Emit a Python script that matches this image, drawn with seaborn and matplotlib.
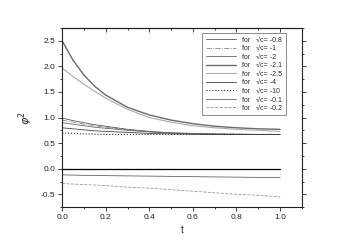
import matplotlib
matplotlib.use('Agg')
import matplotlib.pyplot as plt
import numpy as np
import pandas as pd
import seaborn as sns
from matplotlib.ticker import MultipleLocator

t = [0.0, 0.05, 0.1, 0.15, 0.2, 0.3, 0.4, 0.5, 0.6, 0.7, 0.8, 0.9, 1.0]

phi_m08 = [0.99, 0.94, 0.90, 0.86, 0.83, 0.77, 0.73, 0.70, 0.69, 0.68, 0.675, 0.67, 0.67]
phi_m1 = [0.95, 0.91, 0.87, 0.84, 0.81, 0.76, 0.72, 0.70, 0.69, 0.68, 0.675, 0.67, 0.67]
phi_m2 = [0.90, 0.87, 0.84, 0.81, 0.79, 0.75, 0.72, 0.70, 0.68, 0.675, 0.67, 0.67, 0.67]
phi_m21 = [2.50, 2.12, 1.83, 1.61, 1.44, 1.20, 1.05, 0.95, 0.88, 0.83, 0.80, 0.78, 0.77]
phi_m25 = [1.97, 1.80, 1.65, 1.51, 1.38, 1.16, 1.00, 0.91, 0.84, 0.80, 0.77, 0.75, 0.73]
phi_m4 = [0.80, 0.78, 0.76, 0.74, 0.73, 0.71, 0.69, 0.68, 0.675, 0.67, 0.67, 0.67, 0.67]
phi_m10 = [0.70, 0.69, 0.68, 0.675, 0.67, 0.67, 0.67, 0.67, 0.67, 0.67, 0.67, 0.67, 0.67]
phi_m01 = [-0.12, -0.125, -0.13, -0.13, -0.135, -0.14, -0.145, -0.15, -0.155, -0.16, -0.165, -0.17, -0.17]
phi_m02 = [-0.29, -0.30, -0.31, -0.32, -0.33, -0.36, -0.38, -0.41, -0.44, -0.47, -0.50, -0.52, -0.55]
phi_zero = [0.0] * len(t)

labels = ['-0.8', '-1', '-2', '-2.1', '-2.5', '-4', '-10', '-0.1', '-0.2']
series = [phi_m08, phi_m1, phi_m2, phi_m21, phi_m25, phi_m4, phi_m10, phi_m01, phi_m02]
styles = [
    dict(color='#555555', lw=0.6, ls='-'),
    dict(color='#888888', lw=0.6, ls='-.'),
    dict(color='#666666', lw=0.6, ls='-'),
    dict(color='#6a6a6a', lw=1.0, ls='-'),
    dict(color='#aaaaaa', lw=0.8, ls='-'),
    dict(color='#444444', lw=0.6, ls='-'),
    dict(color='#333333', lw=0.8, ls=':'),
    dict(color='#666666', lw=0.6, ls='-'),
    dict(color='#999999', lw=0.6, ls='--'),
]

sns.set_style('white')
plt.rcParams['font.family'] = ['Liberation Sans', 'DejaVu Sans']

fig = plt.figure(figsize=(3.51, 2.48), dpi=100)
ax = fig.add_axes([0.177, 0.165, 0.683, 0.722])

for lab, vals, st in zip(labels, series, styles):
    df = pd.DataFrame({'t': t, 'phi': vals})
    sns.lineplot(data=df, x='t', y='phi', ax=ax, label=f'for   \u221ac= {lab}', **st)
sns.lineplot(x=t, y=phi_zero, ax=ax, color='black', lw=0.9, legend=False)

ax.set_xlim(0, 1.1)
ax.set_ylim(-0.75, 2.75)
ax.xaxis.set_minor_locator(MultipleLocator(0.1))
ax.yaxis.set_minor_locator(MultipleLocator(0.25))
ax.set_xticks([0, 0.2, 0.4, 0.6, 0.8, 1.0])
ax.set_xticklabels(['0.0', '0.2', '0.4', '0.6', '0.8', '1.0'])
ax.set_yticks([-0.5, 0.0, 0.5, 1.0, 1.5, 2.0, 2.5])
ax.set_yticklabels(['-0.5', '0.0', '0.5', '1.0', '1.5', '2.0', '2.5'])
ax.tick_params(which='both', direction='out', labelsize=6, width=0.6, colors='#222222',
               bottom=True, left=True, right=True, top=False, pad=2)
ax.tick_params(which='major', length=3)
ax.tick_params(which='minor', length=1.5)
for s in ax.spines.values():
    s.set_linewidth(0.8)
    s.set_color('#222222')

top = ax.secondary_xaxis('top')
top.set_xticks([0, 0.2, 0.4, 0.6, 0.8, 1.0])
top.xaxis.set_minor_locator(MultipleLocator(0.1))
top.tick_params(which='both', direction='in', labeltop=False, width=0.6, colors='#222222')
top.tick_params(which='major', length=3)
top.tick_params(which='minor', length=1.5)
top.spines['top'].set_linewidth(0.8)

ax.set_xlabel('t', fontsize=7, labelpad=3)
ax.set_ylabel(r'$\varphi^2$', fontsize=8, labelpad=4)

leg = ax.legend(loc='upper right', bbox_to_anchor=(0.933, 0.972), fontsize=5,
                frameon=True, fancybox=False, edgecolor='#777777', framealpha=1,
                handlelength=4.4, labelspacing=0.22, borderpad=0.5, handletextpad=0.9,
                borderaxespad=0.0)
leg.get_frame().set_linewidth(0.6)

fig.savefig('out.png', dpi=100)
